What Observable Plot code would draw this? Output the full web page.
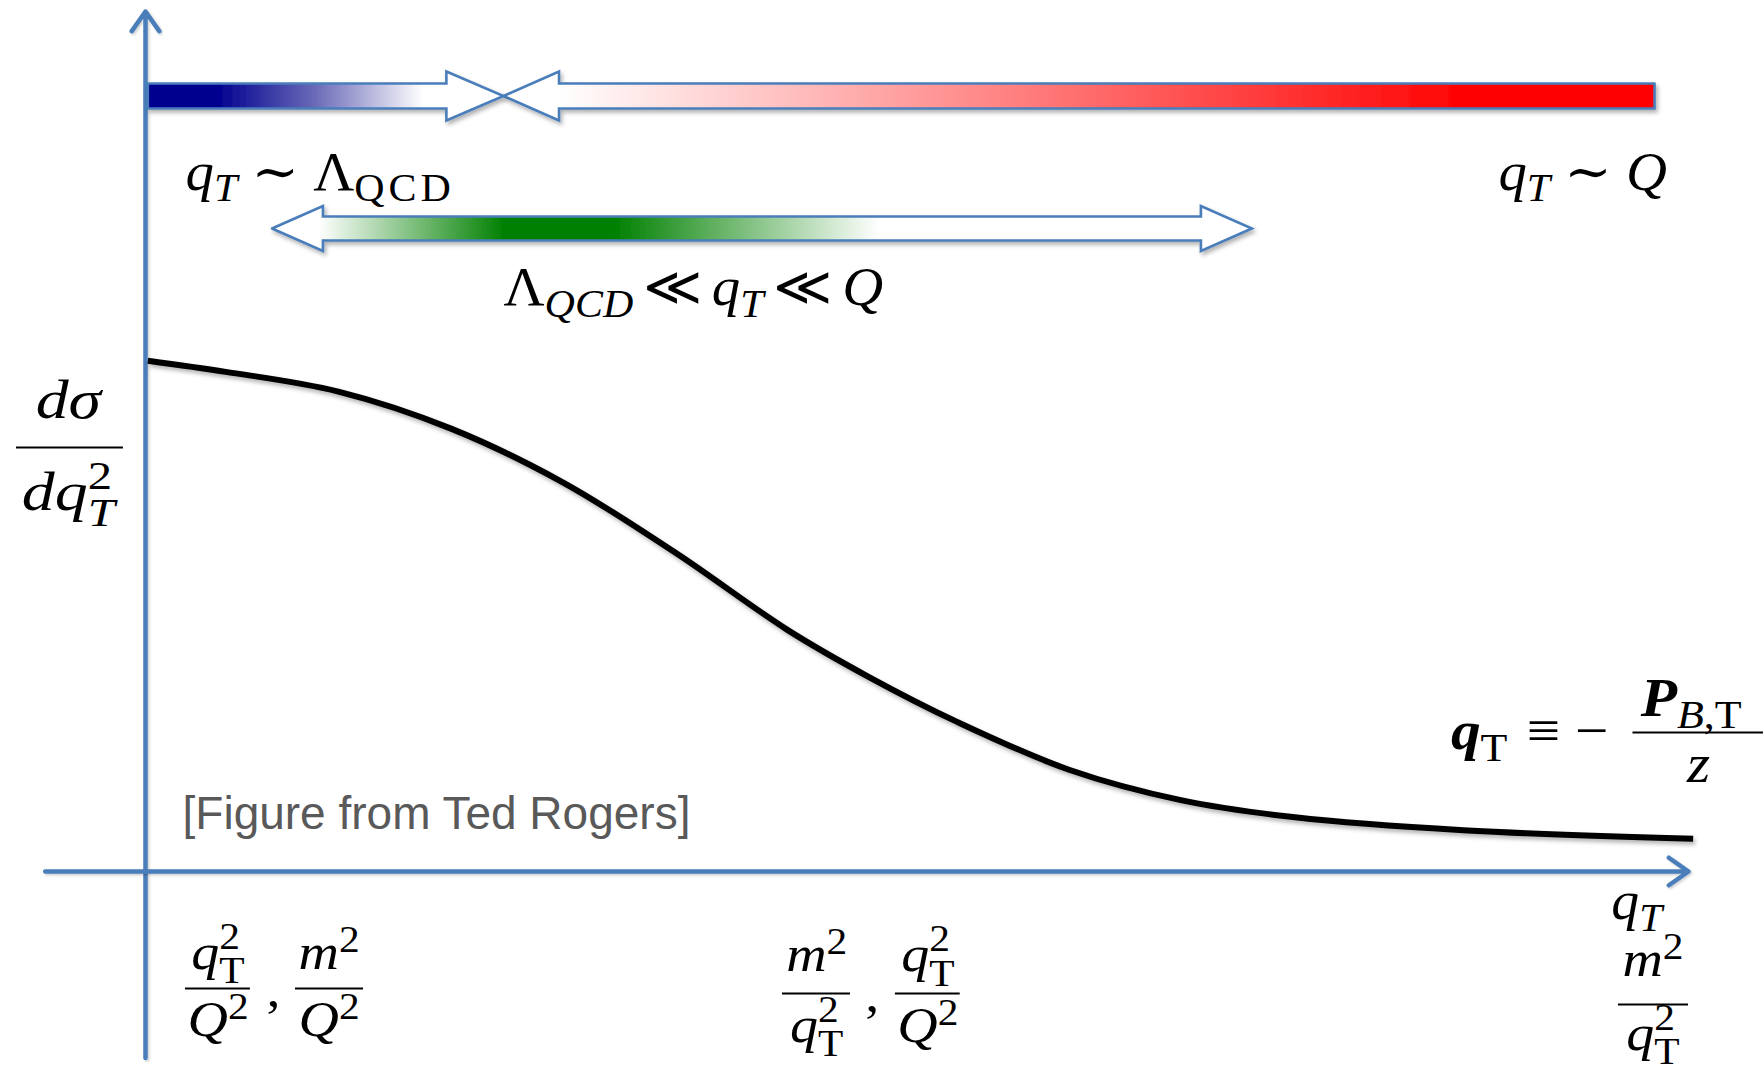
<!DOCTYPE html>
<html><head><meta charset="utf-8">
<script src="https://cdn.jsdelivr.net/npm/d3@7"></script>
<script src="https://cdn.jsdelivr.net/npm/@observablehq/plot@0.6"></script>
<style>html,body{margin:0;padding:0;background:#fff;overflow:hidden}text{white-space:pre}</style>
</head><body><div id="chart"></div>
<script>
// ---------------- data (schematic units: qT on x, dσ/dqT² on y) ----------------
const curveQT    = [0.15, 5.2, 12.5, 19.8, 27.1, 34.4, 41.6, 46.8, 52.6, 59.9, 67.1, 74.5, 85.4, 100.3];
const curveXsec  = [59.4, 58.1, 55.8, 51.5, 45.2, 37.0, 28.1, 22.7, 17.4, 11.8, 8.3, 6.3, 4.8, 3.8];

// regime arrows (qT extents)
const lowRegime  = {from: 0.15, headBase: 19.5, tip: 23.2, y: 90.17};   // qT ~ Λ_QCD, points right
const highRegime = {from: 97.8, headBase: 26.8, tip: 23.2, y: 90.17};   // qT ~ Q, points left
const midRegime  = {leftTip: 8.2, leftBase: 11.5, rightBase: 68.4, rightTip: 71.7, y: 74.77};

// axes
const xAxisLine = [{x1: -6.5, y1: 0, x2: 100, y2: 0}];
const yAxisLine = [{x1: 0, y1: -21.7, x2: 0, y2: 100}];

// labels (tex-like strings)
const regimeLabels = [
  {x: 2.6,  y: 79.3, anchor: "start", tex: "q_T∼Λ_{\\rm{QCD}}"},
  {x: 98.6, y: 79.3, anchor: "end",   tex: "q_T∼Q"},
  {x: 23.2, y: 65.9, anchor: "start", tex: "Λ_{QCD}≪q_T≪Q"}
];
const xAxisLabel = [{x: 95.0, y: -5.5, anchor: "start", tex: "q_T"}];
const yAxisLabel = [
  {x: -5.0, y: 52.7, anchor: "middle", tex: "dσ"},
  {x: -5.0, y: 42.0, anchor: "middle", tex: "dq_T^2"}
];
const tickLabels = [
  {x: 4.7,  y: -11.3, anchor: "middle", tex: "q_{\\rm{T}}^2"},
  {x: 4.7,  y: -19.1, anchor: "middle", tex: "Q^2"},
  {x: 8.3,  y: -15.6, anchor: "middle", tex: ","},
  {x: 11.9, y: -11.3, anchor: "middle", tex: "m^2"},
  {x: 11.9, y: -19.1, anchor: "middle", tex: "Q^2"},
  {x: 43.5, y: -11.6, anchor: "middle", tex: "m^2"},
  {x: 43.5, y: -19.8, anchor: "middle", tex: "q_{\\rm{T}}^2"},
  {x: 47.1, y: -16.2, anchor: "middle", tex: ","},
  {x: 50.7, y: -11.6, anchor: "middle", tex: "q_{\\rm{T}}^2"},
  {x: 50.7, y: -19.8, anchor: "middle", tex: "Q^2"},
  {x: 97.7, y: -12.1, anchor: "middle", tex: "m^2"},
  {x: 97.7, y: -20.7, anchor: "middle", tex: "q_{\\rm{T}}^2"}
];
const definitionLabels = [
  {x: 84.6,  y: 14.3,  anchor: "start",  tex: "\\bf{q}_{\\rm{T}}≡−"},
  {x: 96.9,  y: 18.1,  anchor: "start",  tex: "\\bf{P}_{B,\\rm{T}}"},
  {x: 100.65,y: 10.35, anchor: "middle", tex: "z"}
];
const fractionBars = [
  {x1: -8.36, x2: -1.43, y: 49.3},
  {x1: 96.4,  x2: 104.86, y: 16.16},
  {x1: 2.59,  x2: 6.8,   y: -13.6},
  {x1: 9.72,  x2: 14.13, y: -13.6},
  {x1: 41.28, x2: 45.69, y: -14.19},
  {x1: 48.6,  x2: 52.8,  y: -14.19},
  {x1: 95.46, x2: 100.0, y: -15.47}
];
const credit = [{x: 2.4, y: 4.9, text: "[Figure from Ted Rogers]"}];

// colour ramps along qT
const blueRamp  = [[4.6, "#00008f"], [11.0, "#6a6ab8"], [18.0, "#ffffff"]];
const redRamp   = [[26.8, "#ffffff"], [86.0, "#ff0000"]];
const greenRamp = [[11.2, "#ffffff"], [23.3, "#008000"], [30.3, "#008000"], [47.6, "#ffffff"]];

// ---------------- shapes ----------------
const SH = 1.45, HH = 2.85, GSH = 1.40, GHH = 2.62;
function singleArrow(a, sh, hh) {
  const c = a.y;
  return [[a.from, c + sh], [a.headBase, c + sh], [a.headBase, c + hh], [a.tip, c],
          [a.headBase, c - hh], [a.headBase, c - sh], [a.from, c - sh], [a.from, c + sh]]
    .map(([x, y]) => ({x, y}));
}
function doubleArrow(a, sh, hh) {
  const c = a.y;
  return [[a.leftTip, c], [a.leftBase, c + hh], [a.leftBase, c + sh], [a.rightBase, c + sh],
          [a.rightBase, c + hh], [a.rightTip, c], [a.rightBase, c - hh], [a.rightBase, c - sh],
          [a.leftBase, c - sh], [a.leftBase, c - hh], [a.leftTip, c]].map(([x, y]) => ({x, y}));
}
const curve = curveQT.map((q, i) => ({q, s: curveXsec[i]}));
const AX = "#4a7ebb";
const bandStyle = {x: "x", y: "y", stroke: AX, strokeWidth: 2.6, strokeLinejoin: "miter", strokeMiterlimit: 10, curve: "linear", ariaDescription: "band"};
const MATH = "'Liberation Serif', 'DejaVu Serif', serif";
const texMark = (data, name) => Plot.text(data, {x: "x", y: "y", text: "tex", lineAnchor: "bottom", fontFamily: MATH, fill: "#000", ariaDescription: name});

const plot = Plot.plot({
  width: 1764, height: 1066, margin: 0,
  x: {domain: [0, 100], range: [145, 1688], axis: null},
  y: {domain: [0, 100], range: [871, 11], axis: null},
  style: {background: "#fff", overflow: "visible"},
  marks: [
    Plot.arrow(yAxisLine, {x1: "x1", y1: "y1", x2: "x2", y2: "y2", stroke: AX, strokeWidth: 4.5, headLength: 8, headAngle: 70, ariaDescription: "axis"}),
    Plot.arrow(xAxisLine, {x1: "x1", y1: "y1", x2: "x2", y2: "y2", stroke: AX, strokeWidth: 4.5, headLength: 8, headAngle: 70, ariaDescription: "axis"}),
    Plot.line(singleArrow(highRegime, SH, HH), {...bandStyle, fill: "url(#gRed)"}),
    Plot.line(singleArrow(lowRegime, SH, HH), {...bandStyle, fill: "url(#gBlue)"}),
    Plot.line(doubleArrow(midRegime, GSH, GHH), {...bandStyle, fill: "url(#gGreen)"}),
    Plot.line(curve, {x: "q", y: "s", stroke: "#000", strokeWidth: 6, curve: "catmull-rom", strokeLinecap: "butt", ariaDescription: "curve"}),
    Plot.ruleY(fractionBars, {y: "y", x1: "x1", x2: "x2", stroke: "#000", strokeWidth: 2}),
    Plot.text(credit, {x: "x", y: "y", text: "text", textAnchor: "start", lineAnchor: "bottom", fontSize: 46, fontFamily: "'Liberation Sans', Arial, sans-serif", fill: "#595959"}),
    texMark(regimeLabels, "tex-regime"),
    texMark(xAxisLabel, "tex-xlabel"),
    texMark(yAxisLabel, "tex-ylabel"),
    texMark(tickLabels, "tex-tick"),
    texMark(definitionLabels, "tex-def")
  ]
});
document.getElementById("chart").appendChild(plot);
const svg = plot.tagName.toLowerCase() === "svg" ? plot : plot.querySelector("svg");

// ---------------- defs: gradients + shadow ----------------
const NS = "http://www.w3.org/2000/svg";
const xs = plot.scale("x");
const defs = document.createElementNS(NS, "defs");
function addGradient(id, ramp) {
  const g = document.createElementNS(NS, "linearGradient");
  g.setAttribute("id", id);
  g.setAttribute("gradientUnits", "userSpaceOnUse");
  const p0 = xs.apply(ramp[0][0]), p1 = xs.apply(ramp[ramp.length - 1][0]);
  g.setAttribute("x1", p0); g.setAttribute("x2", p1); g.setAttribute("y1", 0); g.setAttribute("y2", 0);
  for (const [v, c] of ramp) {
    const s = document.createElementNS(NS, "stop");
    s.setAttribute("offset", (xs.apply(v) - p0) / (p1 - p0));
    s.setAttribute("stop-color", c);
    g.appendChild(s);
  }
  defs.appendChild(g);
}
addGradient("gBlue", blueRamp);
addGradient("gRed", redRamp);
addGradient("gGreen", greenRamp);
function addShadow(id, dx, dy, sd, op) {
  const f = document.createElementNS(NS, "filter");
  f.setAttribute("id", id);
  f.setAttribute("x", "-10%"); f.setAttribute("y", "-40%");
  f.setAttribute("width", "120%"); f.setAttribute("height", "200%");
  const d = document.createElementNS(NS, "feDropShadow");
  d.setAttribute("dx", dx); d.setAttribute("dy", dy); d.setAttribute("stdDeviation", sd);
  d.setAttribute("flood-color", "#000"); d.setAttribute("flood-opacity", op);
  f.appendChild(d);
  defs.appendChild(f);
}
addShadow("drop", 2, 3, 2, 0.3);
addShadow("dropAxis", 1.5, 1.5, 1.2, 0.2);
svg.insertBefore(defs, svg.firstChild);
const sel = name => svg.querySelectorAll(`g[aria-description="${name}"]`);
sel("band").forEach(g => g.setAttribute("filter", "url(#drop)"));
sel("curve").forEach(g => g.setAttribute("filter", "url(#drop)"));
sel("axis").forEach(g => g.setAttribute("filter", "url(#dropAxis)"));

// ---------------- tiny TeX-like renderer ----------------
function parseTex(s) {
  let i = 0;
  function readGroup(style) {
    const out = [];
    while (i < s.length && s[i] !== "}") {
      const c = s[i];
      if (c === "_" || c === "^") {
        i++;
        const node = {type: "script", lvl: c === "_" ? -1 : 1, items: readAtom(style)};
        const prev = out[out.length - 1];
        if (prev && prev.type === "script" && prev.lvl !== node.lvl && !prev.pair) { prev.pair = node; prev.stacked = node.stacked = true; }
        else out.push(node);
      } else out.push(...readAtom(style));
    }
    return out;
  }
  function readAtom(style) {
    const c = s[i];
    if (c === "{") { i++; const g = readGroup(style); i++; return g; }
    if (c === "\\") {
      const m = /^\\(rm|bf)\{/.exec(s.slice(i));
      if (m) { i += m[0].length; const g = readGroup({...style, [m[1]]: true}); i++; return g; }
    }
    i++;
    return [{type: "char", t: c, style}];
  }
  return readGroup({});
}
const REL = {"∼": 0.25, "≡": 0.25, "≪": 0.17};
function renderTex(el, tex, size, sx) {
  while (el.firstChild) el.removeChild(el.firstChild);
  let cur = 0, pend = 0;
  const emit = (t, style, lvl, stacked) => {
    const fs = lvl ? size * 0.74 : size;
    const shift = lvl < 0 ? size * (stacked ? 0.29 : 0.22) : lvl > 0 ? -size * (stacked ? 0.4 : 0.34) : 0;
    const ts = document.createElementNS(NS, "tspan");
    let dx = pend; pend = 0;
    if (REL[t]) { dx += size * REL[t]; pend = size * REL[t]; }
    if (lvl && style.rm && /[A-Z]/.test(t)) pend += size * 0.07;
    if (dx) ts.setAttribute("dx", dx);
    if (shift !== cur) { ts.setAttribute("dy", shift - cur); cur = shift; }
    ts.setAttribute("font-size", fs);
    ts.setAttribute("font-style", !style.rm && /[A-Za-zα-ω]/.test(t) ? "italic" : "normal");
    if (style.bf) ts.setAttribute("font-weight", "bold");
    ts.textContent = t;
    el.appendChild(ts);
    return ts;
  };
  const width = spans => spans.reduce((w, s) => w + s.getComputedTextLength(), 0);
  const emitItems = (items, lvl, stacked) => {
    const spans = [];
    for (const it of items) {
      if (it.type === "char") spans.push(emit(it.t, it.style, lvl, stacked));
      else {
        const a = emitItems(it.items, it.lvl, it.stacked);
        spans.push(...a);
        if (it.pair) {
          const wa = width(a);
          pend = -wa;
          const b = emitItems(it.pair.items, it.pair.lvl, true);
          pend = Math.max(0, wa - width(b));
          spans.push(...b);
        }
      }
    }
    return spans;
  };
  emitItems(parseTex(tex), 0, false);
  const tr = el.getAttribute("transform") || "";
  el.setAttribute("transform", `${tr} scale(${sx},1)`);
}
function applyTex(name, data, size, sx) {
  sel(name).forEach(g => {
    g.querySelectorAll("text").forEach((el, i) => {
      el.setAttribute("text-anchor", data[i].anchor);
      el.setAttribute("font-size", size);
      renderTex(el, data[i].tex, size, sx);
    });
  });
}
applyTex("tex-regime", regimeLabels, 54, 1.05);
applyTex("tex-xlabel", xAxisLabel, 54, 1.03);
applyTex("tex-ylabel", yAxisLabel, 54, 1.22);
applyTex("tex-tick", tickLabels, 50, 1.12);
applyTex("tex-def", definitionLabels, 55, 1.08);
</script>
</body></html>
